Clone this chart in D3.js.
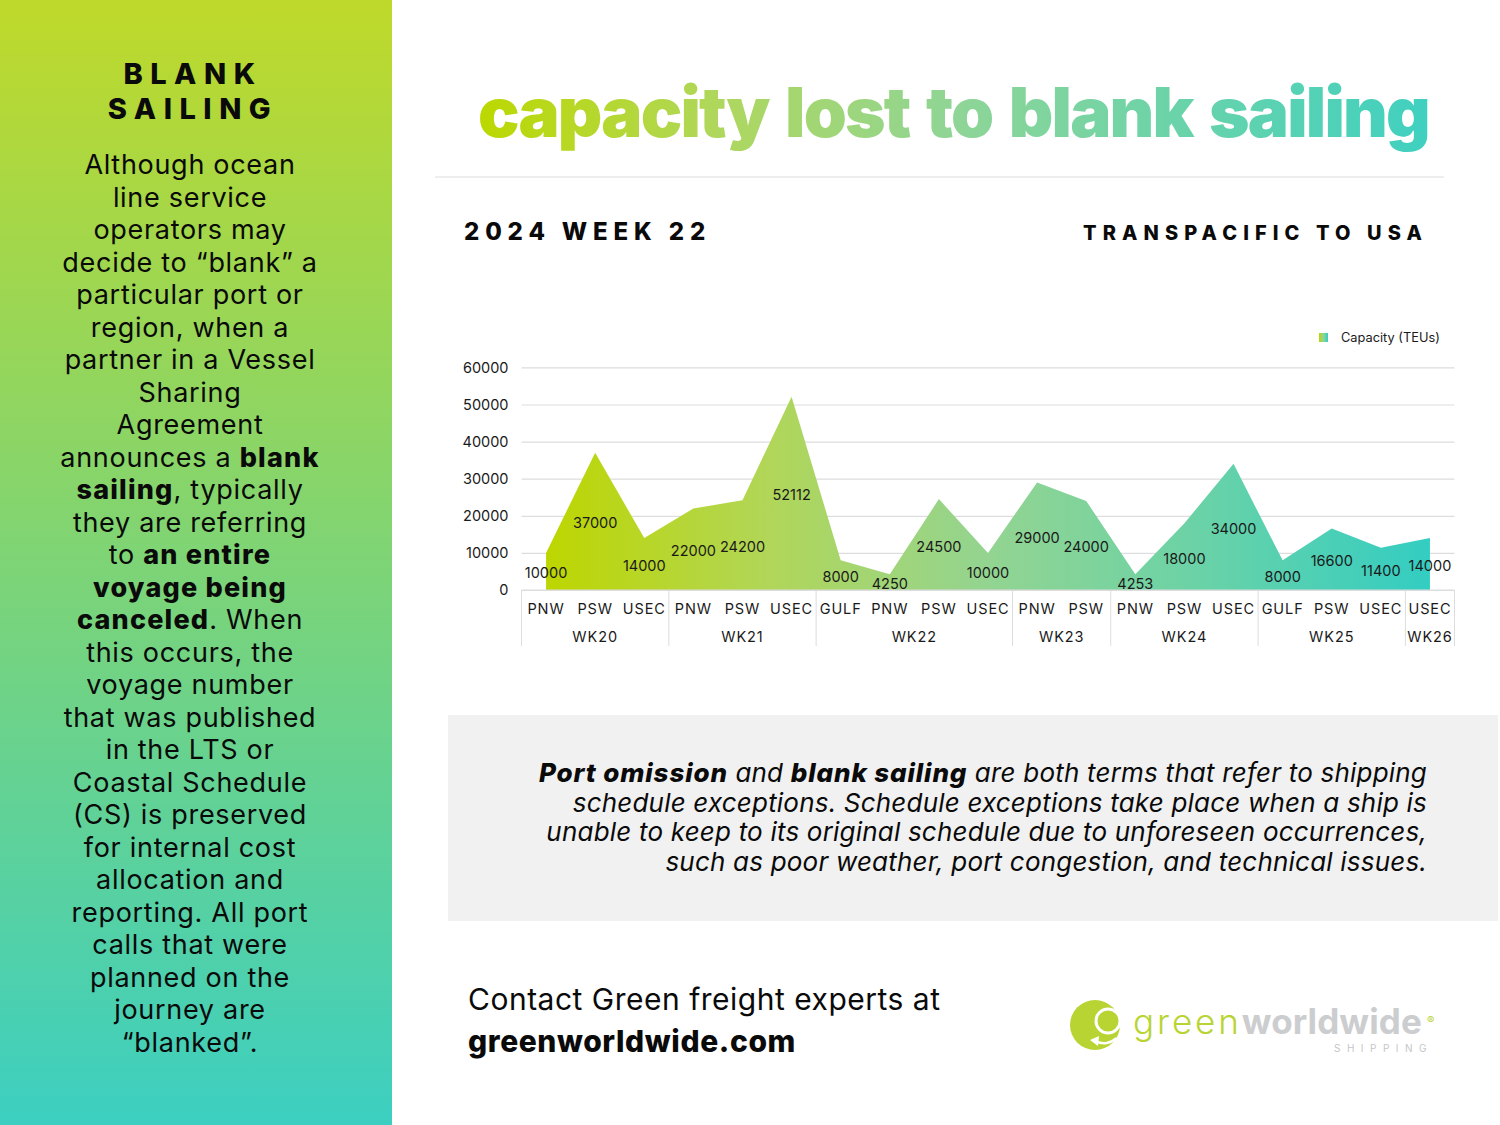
<!DOCTYPE html>
<html>
<head>
<meta charset="utf-8">
<title>Capacity lost to blank sailing</title>
<script src="https://cdn.jsdelivr.net/npm/d3@7"></script>
<style>
  html, body { margin: 0; padding: 0; background: #fff; }
  svg { display: block; }
  text { font-family: "Inter", "Open Sans", sans-serif; fill: #0a0a0a; }
  .tick text { font-size: 14.5px; fill: #1a1a1a; }
  .lbl { font-size: 14.5px; fill: #1a1a1a; }
  .port, .week { letter-spacing: 0.9px; }
</style>
</head>
<body>
<div id="chart"></div>
<script>
const ports = ["PNW", "PSW", "USEC", "PNW", "PSW", "USEC", "GULF", "PNW", "PSW", "USEC", "PNW", "PSW", "PNW", "PSW", "USEC", "GULF", "PSW", "USEC", "USEC"];
const capacity = [10000, 37000, 14000, 22000, 24200, 52112, 8000, 4250, 24500, 10000, 29000, 24000, 4253, 18000, 34000, 8000, 16600, 11400, 14000];
const weeks = ["WK20", "WK21", "WK22", "WK23", "WK24", "WK25", "WK26"];
const weekSizes = [3, 3, 4, 2, 3, 3, 1];
const yTicks = [0, 10000, 20000, 30000, 40000, 50000, 60000];

const headingLines = ["BLANK", "SAILING"];
// each line is a list of [text, bold]
const sideLines = [
  [["Although ocean", 0]],
  [["line service", 0]],
  [["operators may", 0]],
  [["decide to “blank” a", 0]],
  [["particular port or", 0]],
  [["region, when a", 0]],
  [["partner in a Vessel", 0]],
  [["Sharing", 0]],
  [["Agreement", 0]],
  [["announces a ", 0], ["blank", 1]],
  [["sailing", 1], [", typically", 0]],
  [["they are referring", 0]],
  [["to ", 0], ["an entire", 1]],
  [["voyage being", 1]],
  [["canceled", 1], [". When", 0]],
  [["this occurs, the", 0]],
  [["voyage number", 0]],
  [["that was published", 0]],
  [["in the LTS or", 0]],
  [["Coastal Schedule", 0]],
  [["(CS) is preserved", 0]],
  [["for internal cost", 0]],
  [["allocation and", 0]],
  [["reporting. All port", 0]],
  [["calls that were", 0]],
  [["planned on the", 0]],
  [["journey are", 0]],
  [["“blanked”.", 0]]
];
const noteLines = [
  [["Port omission", 1], [" and ", 0], ["blank sailing", 1], [" are both terms that refer to shipping", 0]],
  [["schedule exceptions. Schedule exceptions take place when a ship is", 0]],
  [["unable to keep to its original schedule due to unforeseen occurrences,", 0]],
  [["such as poor weather, port congestion, and technical issues.", 0]]
];

const width = 1500;
const height = 1125;

const svg = d3.select("#chart").append("svg")
    .attr("width", width)
    .attr("height", height)
    .attr("viewBox", `0 0 ${width} ${height}`);

const defs = svg.append("defs");

function addGradient(id, x1, y1, x2, y2, stops) {
    const g = defs.append("linearGradient")
        .attr("id", id)
        .attr("gradientUnits", "userSpaceOnUse")
        .attr("x1", x1).attr("y1", y1).attr("x2", x2).attr("y2", y2);
    stops.forEach((c, i) => g.append("stop")
        .attr("offset", i / (stops.length - 1))
        .attr("stop-color", c));
}

// scales
const x = d3.scaleBand().domain(d3.range(ports.length)).range([521.5, 1454.5]);
const y = d3.scaleLinear().domain([0, 60000]).range([590, 367.4]);

addGradient("sideGrad", 0, 0, 0, 1125, ["#bfd92a", "#3ccfc1"]);
addGradient("titleGrad", 479, 0, 1428, 0, ["#bcd800", "#afd75c", "#8fd596", "#68d3ab", "#40d0c0"]);
addGradient("areaGrad", x(0) + x.bandwidth() / 2, 0, x(18) + x.bandwidth() / 2, 0, ["#bdd600", "#b1d658", "#93d491", "#68d2a8", "#33cdc2"]);
addGradient("legendGrad", 1319, 0, 1328, 0, ["#bcd600", "#8fd49a", "#33cdc2"]);

// left panel
svg.append("rect").attr("width", 392).attr("height", height).attr("fill", "url(#sideGrad)");

function addRuns(textSel, runs, boldSpacing) {
    runs.forEach(r => textSel.append("tspan")
        .attr("font-weight", r[1] ? 800 : 400)
        .attr("letter-spacing", r[1] ? boldSpacing : null)
        .text(r[0]));
}

svg.selectAll(".heading").data(headingLines).enter().append("text")
    .attr("class", "heading")
    .attr("x", 193)
    .attr("y", (d, i) => 84 + i * 35)
    .attr("text-anchor", "middle")
    .attr("font-size", 29)
    .attr("font-weight", 800)
    .attr("letter-spacing", 7.5)
    .text(d => d);

svg.selectAll(".side").data(sideLines).enter().append("text")
    .attr("class", "side")
    .attr("x", 190)
    .attr("y", (d, i) => 174 + i * 32.5)
    .attr("text-anchor", "middle")
    .attr("font-size", 27)
    .attr("letter-spacing", 0.7)
    .each(function (d) { addRuns(d3.select(this), d, 1.2); });

// title block
svg.append("text")
    .attr("x", 478).attr("y", 137)
    .attr("font-size", 69)
    .attr("font-weight", 900)
    .attr("letter-spacing", -1.8)
    .attr("word-spacing", 4.5)
    .style("fill", "url(#titleGrad)")
    .text("capacity lost to blank sailing");

svg.append("line")
    .attr("x1", 435).attr("x2", 1444).attr("y1", 177).attr("y2", 177)
    .attr("stroke", "#dcdcdc");

svg.append("text")
    .attr("x", 464).attr("y", 240)
    .attr("font-size", 24).attr("font-weight", 800).attr("letter-spacing", 5.85)
    .text("2024 WEEK 22");

svg.append("text")
    .attr("x", 1083).attr("y", 240)
    .attr("font-size", 20).attr("font-weight", 800).attr("letter-spacing", 6.1)
    .text("TRANSPACIFIC TO USA");

// chart
const yAxis = d3.axisLeft(y)
    .tickValues(yTicks)
    .tickFormat(d3.format("d"))
    .tickSize(-(x.range()[1] - x.range()[0]))
    .tickPadding(13);

const yG = svg.append("g")
    .attr("transform", `translate(${x.range()[0]},0)`)
    .call(yAxis);
yG.select(".domain").remove();
yG.selectAll(".tick line").attr("stroke", "#dddddd").attr("stroke-width", 1.2);

const area = d3.area()
    .x((d, i) => x(i) + x.bandwidth() / 2)
    .y0(y(0))
    .y1(d => y(d));

svg.append("path")
    .datum(capacity)
    .attr("d", area)
    .attr("fill", "url(#areaGrad)");

svg.selectAll(".val").data(capacity).enter().append("text")
    .attr("class", "lbl val")
    .attr("x", (d, i) => x(i) + x.bandwidth() / 2)
    .attr("y", d => y(d / 2) + 7)
    .attr("text-anchor", "middle")
    .text(d => d);

// two level category axis
svg.selectAll(".port").data(ports).enter().append("text")
    .attr("class", "lbl port")
    .attr("x", (d, i) => x(i) + x.bandwidth() / 2)
    .attr("y", 614)
    .attr("text-anchor", "middle")
    .text(d => d);

let start = 0;
const weekRows = weeks.map((w, i) => {
    const row = { name: w, x0: x(start), x1: x(start + weekSizes[i] - 1) + x.bandwidth() };
    start += weekSizes[i];
    return row;
});

svg.selectAll(".week").data(weekRows).enter().append("text")
    .attr("class", "lbl week")
    .attr("x", d => (d.x0 + d.x1) / 2)
    .attr("y", 642)
    .attr("text-anchor", "middle")
    .text(d => d.name);

svg.append("line")
    .attr("x1", x.range()[0]).attr("x2", x.range()[1])
    .attr("y1", y(0)).attr("y2", y(0))
    .attr("stroke", "#dddddd");

svg.selectAll(".divider").data([weekRows[0].x0].concat(weekRows.map(d => d.x1))).enter().append("line")
    .attr("class", "divider")
    .attr("x1", d => d).attr("x2", d => d)
    .attr("y1", y(0)).attr("y2", 646)
    .attr("stroke", "#dddddd");

// legend
svg.append("rect")
    .attr("x", 1319).attr("y", 333).attr("width", 9).attr("height", 9)
    .attr("fill", "url(#legendGrad)");
svg.append("text")
    .attr("x", 1341).attr("y", 342)
    .attr("font-size", 12.8).style("fill", "#1a1a1a")
    .text("Capacity (TEUs)");

// note box
svg.append("rect")
    .attr("x", 448).attr("y", 715).attr("width", 1050).attr("height", 206)
    .attr("fill", "#f1f1f1");

svg.selectAll(".note").data(noteLines).enter().append("text")
    .attr("class", "note")
    .attr("x", 1427)
    .attr("y", (d, i) => 782 + i * 29.7)
    .attr("text-anchor", "end")
    .attr("font-size", 26)
    .attr("font-style", "italic")
    .attr("letter-spacing", 0.2)
    .each(function (d) { addRuns(d3.select(this), d, 0.9); });

// contact
svg.append("text")
    .attr("x", 468).attr("y", 1010)
    .attr("font-size", 30).attr("letter-spacing", 0.5)
    .text("Contact Green freight experts at");
svg.append("text")
    .attr("x", 468).attr("y", 1052)
    .attr("font-size", 30).attr("font-weight", 800).attr("letter-spacing", 0.6)
    .text("greenworldwide.com");

// logo
const logo = svg.append("g");
logo.append("circle").attr("cx", 1095).attr("cy", 1025).attr("r", 25).attr("fill", "#b7d433");
logo.append("circle").attr("cx", 1108).attr("cy", 1021).attr("r", 12).attr("fill", "#b7d433")
    .attr("stroke", "#fff").attr("stroke-width", 3);
logo.append("path")
    .attr("d", d3.arc()({ innerRadius: 16, outerRadius: 18.5, startAngle: Math.PI * 0.75, endAngle: Math.PI * 1.15 }))
    .attr("transform", "translate(1104,1026)")
    .attr("fill", "#fff");
logo.append("path")
    .attr("d", "M1090,1040 L1099,1036 L1098,1046 Z")
    .attr("fill", "#fff");
logo.append("text")
    .attr("x", 1133).attr("y", 1034)
    .attr("font-size", 35)
    .call(t => {
        t.append("tspan").style("fill", "#b7d433").attr("font-weight", 300).attr("letter-spacing", 2.9).text("green");
        t.append("tspan").style("fill", "#cbcdcf").attr("font-weight", 700).attr("letter-spacing", 0.1).text("worldwide");
    });
logo.append("text")
    .attr("x", 1334).attr("y", 1052)
    .attr("font-size", 10).attr("letter-spacing", 6.5)
    .style("fill", "#c4c6c8")
    .text("SHIPPING");
logo.append("text")
    .attr("x", 1427).attr("y", 1024)
    .attr("font-size", 11)
    .style("fill", "#b7d433")
    .text("®");
</script>
</body>
</html>
